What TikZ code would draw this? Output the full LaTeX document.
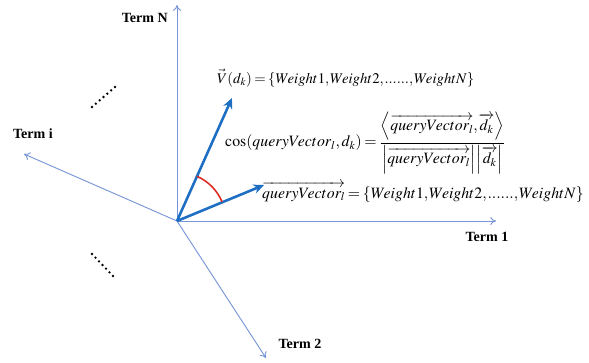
\documentclass[tikz,border=0pt]{standalone}
\usepackage{amsmath}
\usepackage{mathptmx}
\usepackage{fontspec}
\setmainfont{Liberation Serif}
\usetikzlibrary{arrows.meta}

\definecolor{axisblue}{RGB}{120,150,215}
\definecolor{vecblue}{RGB}{30,110,195}
\definecolor{arcred}{RGB}{220,40,30}

\begin{document}
\begin{tikzpicture}[x=0.03cm, y=-0.03cm,
		axis/.style={draw=axisblue, line width=0.8pt, -{To[length=5pt,width=7pt]}},
		vec/.style={draw=vecblue, line width=2.2pt, -{Stealth[length=9pt,width=8pt]}},
		term/.style={font=\fontsize{12}{14}\selectfont\bfseries, inner sep=0pt},
		formula/.style={font=\fontsize{13.5}{16}\selectfont, inner sep=0pt,
			execute at begin node={\thinmuskip=1mu\medmuskip=2mu\thickmuskip=3mu}}]
	
	\useasboundingbox (0,0) rectangle (589,362);
	
	% 原点与各坐标轴
	\coordinate (O) at (177,221);
	\coordinate (tN) at (177,5);
	\coordinate (ti) at (24,154);
	\coordinate (t1) at (496,221);
	\coordinate (t2) at (266,358);
	\draw[axis] (O) -- (tN);
	\draw[axis] (O) -- (ti);
	\draw[axis] (O) -- (t1);
	\draw[axis] (O) -- (t2);
	
	% 坐标轴标注
	\node[term, anchor=east] (labN) at (168,18) {Term N};
	\node[term] (labi) at (33,134) {Term i};
	\node[term] (lab1) at (487,237) {Term 1};
	\node[term] (lab2) at (300,344) {Term 2};
	
	% 省略号
	\foreach \i in {0,...,6} {
		\fill ({92+\i*23/6},{107-\i*20/6}) circle (1.1pt);
		\fill ({92+\i*21/6},{254+\i*22/6}) circle (1.1pt);
	}
	
	% 文档向量与查询向量
	\coordinate (dk) at (232,98);
	\coordinate (qv) at (264,185);
	\draw[vec] (O) -- (dk);
	\draw[vec] (O) -- (qv);
	
	% 夹角
	\draw[arcred, line width=1.3pt] (O) ++(-66:49) arc[start angle=-66, end angle=-23, radius=49];
	
	% 公式
	\node[formula, font=\fontsize{12.6}{16}\selectfont, anchor=base west] (vdk) at (217,83)
		{$\vec{V}(d_k)=\{Weight1,Weight2,......,WeightN\}$};
	\node[formula, anchor=west] (cosf) at (225,143)
		{$\cos(queryVector_l,\,d_k)=\dfrac{\left\langle\overrightarrow{queryVector_l},\overrightarrow{d_k}\right\rangle}{\left|\overrightarrow{queryVector_l}\right|\left|\overrightarrow{d_k}\right|}$};
	\node[formula, anchor=base west] (qvec) at (262,198)
		{$\overrightarrow{queryVector_l}=\{Weight1,Weight2,......,WeightN\}$};
\end{tikzpicture}
\end{document}
